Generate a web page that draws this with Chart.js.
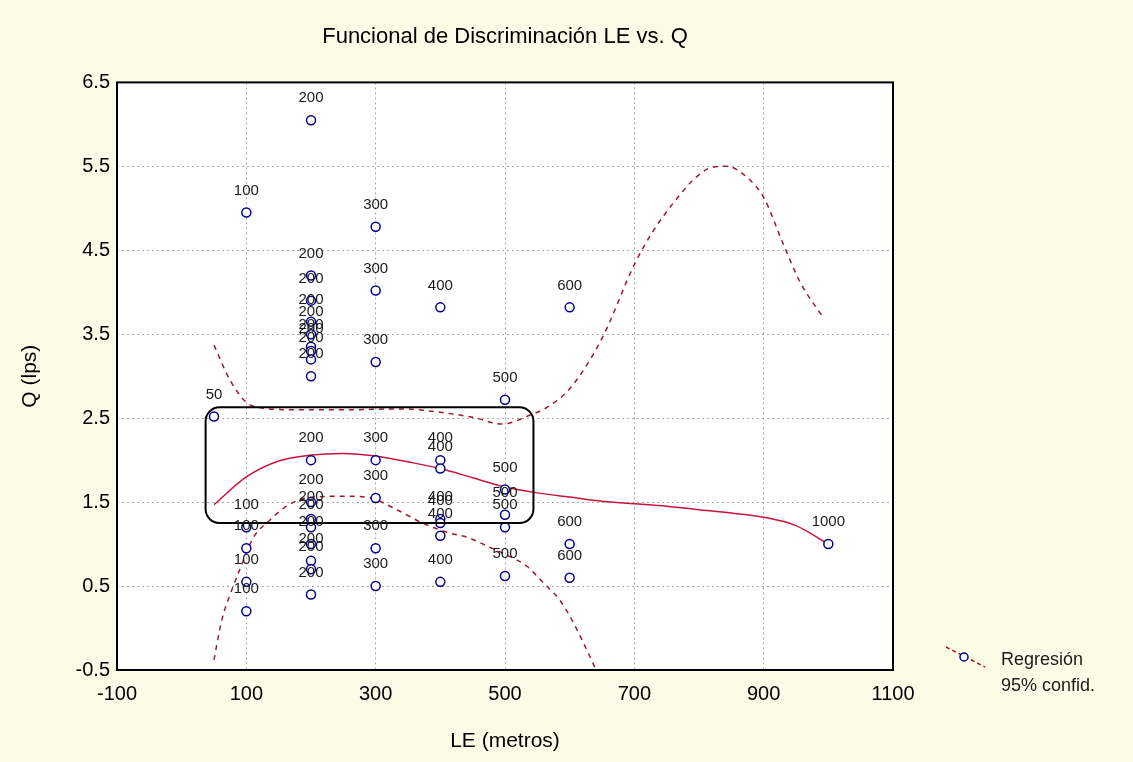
<!DOCTYPE html>
<html lang="es">
<head>
<meta charset="UTF-8" />
<title>Funcional de Discriminación LE vs. Q</title>
<script src="https://cdn.jsdelivr.net/npm/chart.js"></script>
<style>
  html, body { margin: 0; padding: 0; background: #fcfce6; }
</style>
</head>
<body>
<canvas id="grafico" width="1133" height="762"></canvas>
<script>
// Observaciones: LE (metros) y Q (lps)
const puntosLE = [50,
  100, 100, 100, 100, 100,
  200, 200, 200, 200, 200, 200, 200, 200, 200, 200, 200, 200, 200, 200, 200, 200, 200,
  300, 300, 300, 300, 300, 300, 300,
  400, 400, 400, 400, 400, 400, 400,
  500, 500, 500, 500, 500,
  600, 600, 600,
  1000];
const puntosQ = [2.52,
  4.95, 1.2, 0.95, 0.55, 0.2,
  6.05, 4.2, 3.9, 3.65, 3.5, 3.35, 3.3, 3.2, 3.0, 2.0, 1.5, 1.3, 1.2, 1.0, 0.8, 0.7, 0.4,
  4.78, 4.02, 3.17, 2.0, 1.55, 0.95, 0.5,
  3.82, 2.0, 1.9, 1.3, 1.25, 1.1, 0.55,
  2.72, 1.65, 1.35, 1.2, 0.62,
  3.82, 1.0, 0.6,
  1.0];

// Curva de regresión
const regLE = [50, 100, 150, 200, 250, 300, 350, 400, 450, 500, 550, 600, 650, 700, 750, 800, 850, 900, 950, 1000];
const regQ = [1.47, 1.80, 1.99, 2.06, 2.08, 2.05, 1.98, 1.90, 1.79, 1.68, 1.61, 1.56, 1.51, 1.48, 1.45, 1.41, 1.37, 1.32, 1.22, 1.0];

// Límite superior 95%
const supLE = [50, 75, 100, 125, 175, 250, 340, 400, 450, 495, 540, 565, 600, 650, 700, 730, 760, 790, 817, 843, 874, 900, 930, 957, 990];
const supQ = [3.37, 2.95, 2.69, 2.62, 2.60, 2.60, 2.61, 2.57, 2.51, 2.43, 2.54, 2.63, 2.85, 3.45, 4.33, 4.74, 5.06, 5.33, 5.48, 5.50, 5.37, 5.13, 4.58, 4.11, 3.72];

// Límite inferior 95%
const infLE = [50, 58, 65, 75, 90, 111, 137, 153, 179, 204, 256, 297, 320, 345, 370, 415, 442, 477, 508, 535, 559, 585, 606, 641];
const infQ = [-0.38, -0.05, 0.18, 0.40, 0.70, 1.08, 1.29, 1.40, 1.52, 1.56, 1.57, 1.54, 1.46, 1.36, 1.26, 1.13, 1.08, 0.96, 0.85, 0.73, 0.54, 0.33, 0.06, -0.5];

const ticksX = [-100, 100, 300, 500, 700, 900, 1100];
const ticksY = [-0.5, 0.5, 1.5, 2.5, 3.5, 4.5, 5.5, 6.5];

// recuadro redondeado (en unidades de los ejes)
const recuadro = { le1: 37, le2: 544, q1: 1.25, q2: 2.63 };

const fuente = "'Liberation Sans', Arial, sans-serif";
const xy = (xs, ys) => xs.map((x, i) => ({ x: x, y: ys[i] }));

const extras = {
  id: 'extras',
  beforeDraw(chart) {
    const { ctx, chartArea: a, width, height } = chart;
    ctx.save();
    ctx.fillStyle = '#fcfce6';
    ctx.fillRect(0, 0, width, height);
    ctx.fillStyle = '#ffffff';
    ctx.fillRect(a.left, a.top, a.right - a.left, a.bottom - a.top);
    ctx.restore();
  },
  afterDatasetsDraw(chart) {
    const { ctx, chartArea: a, scales } = chart;
    ctx.save();

    // recuadro
    const x1 = scales.x.getPixelForValue(recuadro.le1);
    const x2 = scales.x.getPixelForValue(recuadro.le2);
    const y1 = scales.y.getPixelForValue(recuadro.q2);
    const y2 = scales.y.getPixelForValue(recuadro.q1);
    ctx.strokeStyle = '#000000';
    ctx.lineWidth = 2;
    ctx.beginPath();
    ctx.roundRect(x1, y1, x2 - x1, y2 - y1, 14);
    ctx.stroke();

    // etiquetas de los puntos
    ctx.fillStyle = '#1a1a1a';
    ctx.font = '15px ' + fuente;
    ctx.textAlign = 'center';
    ctx.textBaseline = 'middle';
    chart.getDatasetMeta(0).data.forEach((el, i) => {
      ctx.fillText(String(puntosLE[i]), el.x, el.y - 22);
    });

    // marco
    ctx.lineWidth = 2;
    ctx.strokeStyle = '#000000';
    ctx.strokeRect(a.left, a.top, a.right - a.left, a.bottom - a.top);

    // leyenda
    ctx.setLineDash([4, 3]);
    ctx.strokeStyle = '#a01830';
    ctx.lineWidth = 1.5;
    ctx.beginPath();
    ctx.moveTo(946, 647);
    ctx.lineTo(985, 667);
    ctx.stroke();
    ctx.setLineDash([]);
    ctx.fillStyle = '#ffffff';
    ctx.strokeStyle = '#000090';
    ctx.beginPath();
    ctx.arc(964, 657, 4, 0, Math.PI * 2);
    ctx.fill();
    ctx.stroke();
    ctx.fillStyle = '#1a1a1a';
    ctx.font = '18px ' + fuente;
    ctx.textAlign = 'left';
    ctx.fillText('Regresión', 1001, 660);
    ctx.fillText('95% confid.', 1001, 686);
    ctx.restore();
  }
};

new Chart(document.getElementById('grafico'), {
  type: 'scatter',
  data: {
    datasets: [
      {
        label: 'Observaciones',
        data: xy(puntosLE, puntosQ),
        pointStyle: 'circle',
        pointRadius: 4.5,
        pointBorderWidth: 1.5,
        pointBorderColor: '#000090',
        pointBackgroundColor: '#ffffff'
      },
      {
        label: 'Regresión',
        data: xy(regLE, regQ),
        showLine: true,
        pointRadius: 0,
        borderColor: '#c8143c',
        borderWidth: 1.5,
        cubicInterpolationMode: 'monotone'
      },
      {
        label: '95% confid. sup.',
        data: xy(supLE, supQ),
        showLine: true,
        pointRadius: 0,
        borderColor: '#a01830',
        borderWidth: 1.5,
        borderDash: [5, 5],
        cubicInterpolationMode: 'monotone'
      },
      {
        label: '95% confid. inf.',
        data: xy(infLE, infQ),
        showLine: true,
        pointRadius: 0,
        borderColor: '#a01830',
        borderWidth: 1.5,
        borderDash: [5, 5],
        cubicInterpolationMode: 'monotone'
      }
    ]
  },
  options: {
    responsive: false,
    animation: false,
    layout: { padding: { left: 0, right: 240, top: 0, bottom: 0 } },
    plugins: {
      legend: { display: false },
      tooltip: { enabled: false },
      title: {
        display: true,
        text: 'Funcional de Discriminación LE vs. Q',
        fullSize: false,
        color: '#000000',
        font: { family: fuente, size: 22, weight: 'normal' },
        padding: { top: 24, bottom: 32 }
      }
    },
    scales: {
      x: {
        type: 'linear',
        min: -100,
        max: 1100,
        afterBuildTicks: s => { s.ticks = ticksX.map(v => ({ value: v })); },
        afterFit: s => { s.height = 92; },
        ticks: {
          color: '#000000',
          font: { family: fuente, size: 20 },
          padding: 12,
          maxRotation: 0,
          callback: v => String(v)
        },
        grid: { color: '#a8a8a8', lineWidth: 1, drawTicks: false },
        border: { display: false, dash: [2, 3] },
        title: {
          display: true,
          text: 'LE (metros)',
          color: '#000000',
          font: { family: fuente, size: 21 },
          padding: { top: 0, bottom: 8 }
        }
      },
      y: {
        type: 'linear',
        min: -0.5,
        max: 6.5,
        afterBuildTicks: s => { s.ticks = ticksY.map(v => ({ value: v })); },
        afterFit: s => { s.width = 117; },
        ticks: {
          color: '#000000',
          font: { family: fuente, size: 20 },
          padding: 7,
          callback: v => Number(v).toFixed(1)
        },
        grid: { color: '#a8a8a8', lineWidth: 1, drawTicks: false },
        border: { display: false, dash: [2, 3] },
        title: {
          display: true,
          text: 'Q (lps)',
          color: '#000000',
          font: { family: fuente, size: 21 },
          padding: { top: 18, bottom: 0 }
        }
      }
    }
  },
  plugins: [extras]
});
</script>
</body>
</html>
